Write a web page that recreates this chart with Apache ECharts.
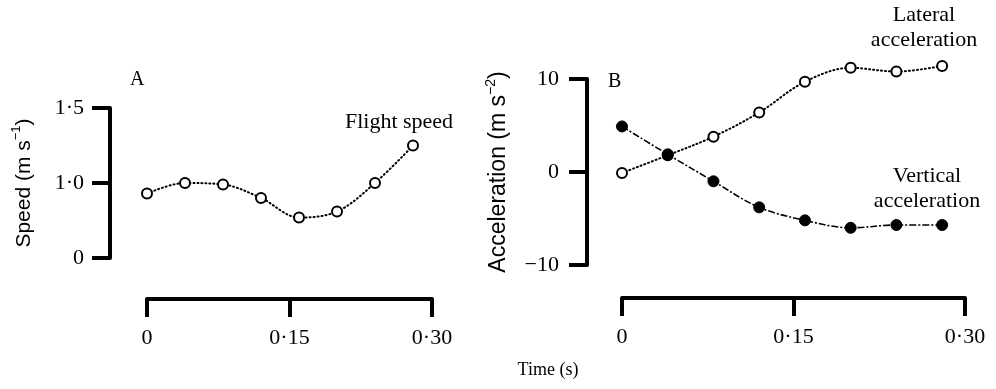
<!DOCTYPE html>
<html>
<head>
<meta charset="utf-8">
<script src="https://cdn.jsdelivr.net/npm/echarts@6/dist/echarts.min.js"></script>
<style>
  html, body { margin: 0; padding: 0; background: #fff; }
  #chart { width: 996px; height: 389px; }
</style>
</head>
<body>
<div id="chart"></div>
<script>
// sample times (s), shared by both panels
const timeValues = [0, 0.04, 0.08, 0.12, 0.16, 0.2, 0.24, 0.28];

// panel A
const flightSpeed = [0.93, 1.0, 0.99, 0.9, 0.77, 0.81, 1.0, 1.25];

// panel B
const lateralAccel = [-0.1, 1.8, 3.8, 6.4, 9.7, 11.2, 10.8, 11.4];
const verticalAccel = [4.9, 1.9, -1.0, -3.8, -5.2, -6.0, -5.7, -5.7];

// tick labels (speed axis is broken: the bottom tick stands for 0)
const timeTicks = [0, 0.15, 0.3];
const timeTickText = ["0", "0·15", "0·30"];
const speedTicks = [0.5, 1.0, 1.5];
const speedTickText = ["0", "1·0", "1·5"];
const accelTicks = [-10, 0, 10];
const accelTickText = ["\u221210", "0", "10"];

const SERIF = "'Liberation Serif', 'DejaVu Serif', serif";
const SANS = "'Liberation Sans', 'DejaVu Sans', sans-serif";

function tickText(ticks, texts) {
  return (value) => {
    const i = ticks.findIndex((t) => Math.abs(t - value) < 1e-9);
    return i >= 0 ? texts[i] : "";
  };
}

function pairs(xs, ys) {
  return xs.map((x, i) => [x, ys[i]]);
}

const axisLine = { show: true, onZero: false, lineStyle: { color: "#000", width: 4, cap: "round" } };
const axisTick = { show: true, inside: false, length: 18, lineStyle: { color: "#000", width: 4 } };

function xAxis(gridIndex, offset) {
  return {
    type: "value",
    gridIndex,
    min: 0,
    max: 0.3,
    interval: 0.15,
    position: "bottom",
    offset,
    axisLine,
    axisTick,
    splitLine: { show: false },
    axisLabel: {
      margin: 28,
      color: "#000",
      fontFamily: SERIF,
      fontSize: 22,
      formatter: tickText(timeTicks, timeTickText),
    },
  };
}

function yAxis(gridIndex, opts) {
  return {
    type: "value",
    gridIndex,
    min: opts.min,
    max: opts.max,
    interval: opts.interval,
    position: "left",
    offset: opts.offset,
    axisLine,
    axisTick,
    splitLine: { show: false },
    axisLabel: {
      margin: opts.labelMargin,
      color: "#000",
      fontFamily: SERIF,
      fontSize: 22,
      formatter: tickText(opts.ticks, opts.texts),
    },
    name: opts.name,
    nameLocation: "middle",
    nameGap: opts.nameGap,
    nameRotate: 90,
    nameTextStyle: {
      color: "#000",
      rich: {
        a: { fontFamily: SANS, fontSize: opts.nameSize, lineHeight: opts.nameSize + 7, color: "#000" },
        s: { fontFamily: SANS, fontSize: Math.round(opts.nameSize * 0.62), verticalAlign: "top", color: "#000" },
      },
    },
  };
}

const openSymbol = { color: "#fff", borderColor: "#000", borderWidth: 2 };

const chart = echarts.init(document.getElementById("chart"), null, { renderer: "canvas" });

chart.setOption({
  animation: false,
  backgroundColor: "#fff",
  grid: [
    { left: 147, width: 285, top: 108, height: 150 },
    { left: 622, width: 343, top: 79, height: 186 },
  ],
  xAxis: [xAxis(0, 41), xAxis(1, 33)],
  yAxis: [
    yAxis(0, {
      min: 0.5, max: 1.5, interval: 0.5, offset: 37, labelMargin: 26,
      ticks: speedTicks, texts: speedTickText,
      name: "{a|Speed (m s}{s|\u22121}{a|)}", nameGap: 72, nameSize: 21,
    }),
    yAxis(1, {
      min: -10, max: 10, interval: 10, offset: 35, labelMargin: 28,
      ticks: accelTicks, texts: accelTickText,
      name: "{a|Acceleration (m s}{s|\u22122}{a|)}", nameGap: 73, nameSize: 23,
    }),
  ],
  series: [
    {
      name: "Flight speed",
      type: "line",
      xAxisIndex: 0,
      yAxisIndex: 0,
      data: pairs(timeValues, flightSpeed),
      smooth: 0.35,
      clip: false,
      symbol: "circle",
      symbolSize: 10,
      itemStyle: openSymbol,
      lineStyle: { color: "#000", width: 2, type: [1, 3], cap: "round" },
    },
    {
      name: "Lateral acceleration",
      type: "line",
      xAxisIndex: 1,
      yAxisIndex: 1,
      data: pairs(timeValues, lateralAccel),
      smooth: 0.35,
      clip: false,
      symbol: "circle",
      symbolSize: 10,
      itemStyle: openSymbol,
      lineStyle: { color: "#000", width: 2, type: [1, 3], cap: "round" },
    },
    {
      name: "Vertical acceleration",
      type: "line",
      xAxisIndex: 1,
      yAxisIndex: 1,
      z: 3,
      data: pairs(timeValues, verticalAccel),
      smooth: 0.35,
      clip: false,
      symbol: "circle",
      symbolSize: 11,
      itemStyle: { color: "#000", borderColor: "#000", borderWidth: 1 },
      lineStyle: { color: "#000", width: 1.6, type: [7, 2, 2, 2] },
    },
  ],
  graphic: [
    { type: "text", left: 130, top: 70, style: { text: "A", font: `20px ${SERIF}`, fill: "#000" } },
    { type: "text", left: 608, top: 72, style: { text: "B", font: `20px ${SERIF}`, fill: "#000" } },
    {
      type: "text", x: 399, y: 122,
      style: { text: "Flight speed", font: `22px ${SERIF}`, fill: "#000", align: "center", verticalAlign: "middle" },
    },
    {
      type: "text", x: 924, y: 28,
      style: { text: "Lateral\nacceleration", font: `22px ${SERIF}`, lineHeight: 25, fill: "#000", align: "center", verticalAlign: "middle" },
    },
    {
      type: "text", x: 927, y: 189,
      style: { text: "Vertical\nacceleration", font: `22px ${SERIF}`, lineHeight: 25, fill: "#000", align: "center", verticalAlign: "middle" },
    },
    {
      type: "text", x: 548, y: 370,
      style: { text: "Time (s)", font: `18px ${SERIF}`, fill: "#000", align: "center", verticalAlign: "middle" },
    },
  ],
});
</script>
</body>
</html>
